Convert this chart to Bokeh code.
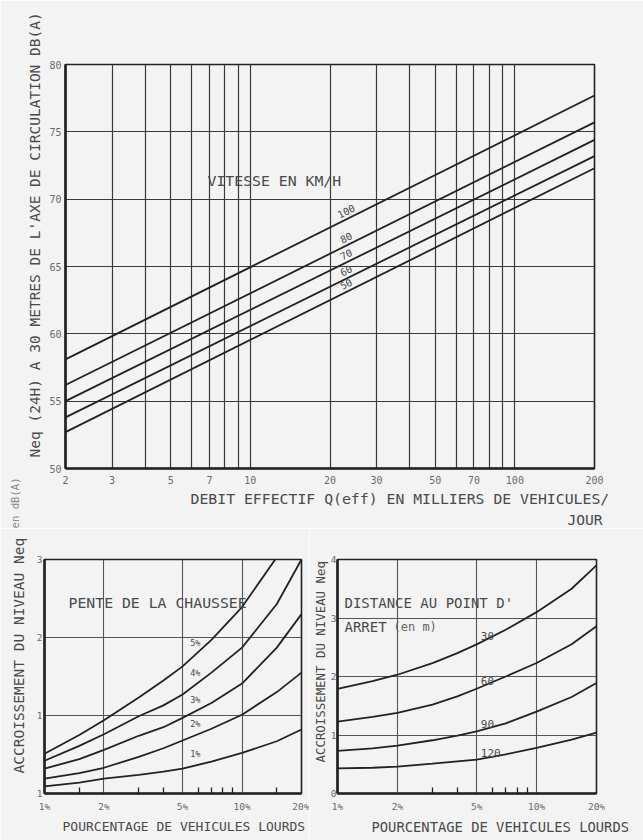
import numpy as np
from bokeh.plotting import figure
from bokeh.models import FixedTicker, Label, Range1d, ColumnDataSource, Title
from bokeh.layouts import column, row
from bokeh.embed import file_html
from bokeh.resources import INLINE
from bokeh.core.properties import value

# ---------------- data: top chart (straight lines on log x) ----------------
flow_ends = [2, 200]                 # thousands of vehicles / day
speed_names = ["100", "80", "70", "60", "50"]
leq_100 = [58.1, 77.7]
leq_80 = [56.2, 75.7]
leq_70 = [55.0, 74.4]
leq_60 = [53.8, 73.2]
leq_50 = [52.7, 72.3]
top_x_ticks = [2, 3, 5, 7, 10, 20, 30, 50, 70, 100, 200]
top_x_grid = [3, 4, 5, 6, 7, 8, 9, 10, 20, 30, 40, 50, 60, 70, 80, 90, 100]
top_y_ticks = [50, 55, 60, 65, 70, 75, 80]
top_y_grid = [55, 60, 65, 70, 75]

# ---------------- data: bottom panels ----------------
hv_pct = [1, 1.5, 2, 3, 4, 5, 7, 10, 15, 20]   # % heavy vehicles
slope_names = ["5%", "4%", "3%", "2%", "1%"]
slope_5 = [0.51, 0.75, 0.94, 1.23, 1.45, 1.63, 1.97, 2.39, 3.03, 3.55]
slope_4 = [0.42, 0.61, 0.76, 0.99, 1.13, 1.27, 1.55, 1.87, 2.43, 3.0]
slope_3 = [0.32, 0.44, 0.56, 0.74, 0.85, 0.97, 1.16, 1.41, 1.87, 2.3]
slope_2 = [0.19, 0.26, 0.33, 0.47, 0.58, 0.68, 0.83, 1.01, 1.3, 1.55]
slope_1 = [0.09, 0.14, 0.19, 0.24, 0.28, 0.32, 0.41, 0.52, 0.67, 0.82]

dist_names = ["30", "60", "90", "120"]
dist_30 = [1.79, 1.92, 2.03, 2.23, 2.40, 2.55, 2.80, 3.10, 3.50, 3.90]
dist_60 = [1.23, 1.31, 1.38, 1.52, 1.66, 1.79, 2.00, 2.23, 2.55, 2.86]
dist_90 = [0.73, 0.77, 0.82, 0.91, 0.99, 1.06, 1.20, 1.40, 1.65, 1.89]
dist_120 = [0.43, 0.44, 0.46, 0.51, 0.55, 0.58, 0.67, 0.78, 0.92, 1.04]

pct_ticks = [1, 2, 5, 10, 20]
pct_labels = ["1%", "2%", "5%", "10%", "20%"]
left_minor = [1.5, 3, 4, 6, 7, 8, 9, 15]
right_minor = [3, 4, 6, 7, 8, 9]
left_y_ticks = [0, 1, 2, 3]
left_y_labels = ["1", "1", "2", "3"]
right_y_ticks = [0, 1, 2, 3, 4]

# ---------------- style ----------------
FONT = "DejaVu Sans Mono"
BG = "#f3f3f3"
INK = "#222222"
TXT = "#4a4a4a"
TICKTXT = "#6a6a6a"


def at(xs, ys, x):
    return float(np.interp(np.log10(x), np.log10(xs), ys))


def style(p, grid_color="#3a3a3a", grid_w=1.2):
    p.background_fill_color = BG
    p.border_fill_color = BG
    p.outline_line_color = INK
    p.outline_line_width = 1.6
    for ax in (p.xaxis[0], p.yaxis[0]):
        ax.axis_line_color = INK
        ax.axis_line_width = 2.6
        ax.major_tick_line_color = None
        ax.major_tick_in = 0
        ax.major_tick_out = 0
        ax.minor_tick_line_color = None
        ax.minor_tick_out = 0
        ax.major_label_text_font = FONT
        ax.major_label_text_color = TICKTXT
    p.xgrid.grid_line_color = grid_color
    p.ygrid.grid_line_color = grid_color
    p.xgrid.grid_line_width = grid_w
    p.ygrid.grid_line_width = grid_w


def lab(p, x, y, text, size, align="left", angle=0, color=TXT, baseline="middle"):
    p.add_layout(Label(x=x, y=y, x_units="screen", y_units="screen", text=text,
                       text_font=FONT, text_font_size=size, text_color=color,
                       text_align=align, text_baseline=baseline,
                       angle=angle, angle_units="deg"))


def ttl(p, side, text, size, offset, standoff=2, color=TXT):
    p.add_layout(Title(text=text, align="left", offset=offset, standoff=standoff,
                       text_font=FONT, text_font_size=size, text_font_style="normal",
                       text_color=color), side)


# ================= TOP CHART =================
pt = figure(width=643, height=528, x_axis_type="log",
            x_range=Range1d(2, 200), y_range=Range1d(50, 80),
            output_backend="svg", toolbar_location=None,
            min_border_left=65, min_border_right=49,
            min_border_top=64, min_border_bottom=60)
style(pt)
pt.xaxis.ticker = FixedTicker(ticks=top_x_ticks)
pt.xaxis.major_label_overrides = {t: str(t) for t in top_x_ticks}
pt.xaxis.major_label_text_font_size = "10px"
pt.xaxis.major_label_standoff = 7
pt.yaxis.ticker = FixedTicker(ticks=top_y_ticks)
pt.yaxis.major_label_text_font_size = "10px"
pt.yaxis.major_label_standoff = 4
pt.xgrid.ticker = FixedTicker(ticks=top_x_grid)
pt.ygrid.ticker = FixedTicker(ticks=top_y_grid)

top_series = [leq_100, leq_80, leq_70, leq_60, leq_50]
for ys in top_series:
    pt.line(flow_ends, ys, line_color=INK, line_width=1.8)

lab_x = 23
src_top = ColumnDataSource(dict(
    x=[lab_x] * len(top_series),
    y=[at(flow_ends, ys, lab_x) + 0.62 for ys in top_series],
    t=speed_names))
pt.text(x="x", y="y", text="t", source=src_top, angle=26.5, angle_units="deg",
        text_font=value(FONT), text_font_size="10px", text_color=TXT,
        text_align="center", text_baseline="middle")

lab(pt, 142, 288, "VITESSE EN KM/H", "14.8px")
ttl(pt, "below", "DEBIT EFFECTIF Q(eff) EN MILLIERS DE VEHICULES/", "14.8px", 125)
ttl(pt, "below", "JOUR", "14.6px", 502)
ttl(pt, "left", "Neq (24H) A 30 METRES DE L'AXE DE CIRCULATION DB(A)", "14.5px", 11,
    standoff=8)
# tail of the lower-left panel's axis title (extends above that panel)
ttl(pt, "left", "en dB(A)", "10.6px", -60, standoff=0, color="#8a8a8a")

# ================= BOTTOM LEFT =================
pl = figure(width=309, height=312, x_axis_type="log",
            x_range=Range1d(1, 20), y_range=Range1d(0, 3),
            output_backend="svg", toolbar_location=None,
            min_border_left=44, min_border_right=8,
            min_border_top=31, min_border_bottom=47)
style(pl, grid_color="#555555", grid_w=1.1)
pl.xaxis.ticker = FixedTicker(ticks=pct_ticks, minor_ticks=left_minor)
pl.xaxis.major_label_overrides = dict(zip(pct_ticks, pct_labels))
pl.xaxis.major_label_text_font_size = "9.5px"
pl.xaxis.major_label_standoff = 7
pl.xaxis.minor_tick_line_color = INK
pl.xaxis.minor_tick_in = 6
pl.xaxis.minor_tick_line_width = 1.3
pl.yaxis.ticker = FixedTicker(ticks=left_y_ticks)
pl.yaxis.major_label_overrides = dict(zip(left_y_ticks, left_y_labels))
pl.yaxis.major_label_text_font_size = "9.5px"
pl.yaxis.major_label_standoff = 2
pl.xgrid.ticker = FixedTicker(ticks=[2, 5, 10])
pl.ygrid.ticker = FixedTicker(ticks=[1, 2])

left_series = [slope_5, slope_4, slope_3, slope_2, slope_1]
for ys in left_series:
    pl.line(hv_pct, ys, line_color=INK, line_width=1.8)
lx = 5.8
src_l = ColumnDataSource(dict(x=[lx] * 5, y=[at(hv_pct, ys, lx) + 0.06 for ys in left_series],
                              t=slope_names))
pl.text(x="x", y="y", text="t", source=src_l, text_font=value(FONT),
        text_font_size="8.5px", text_color=TXT, text_align="center",
        text_baseline="bottom", y_offset=-2)

lab(pl, 24, 191, "PENTE DE LA CHAUSSEE", "14.8px")
ttl(pl, "below", "POURCENTAGE DE VEHICULES LOURDS", "13px", 18, standoff=4)
ttl(pl, "left", "ACCROISSEMENT DU NIVEAU Neq", "14.5px", 20, standoff=14)

# ================= BOTTOM RIGHT =================
pr = figure(width=334, height=312, x_axis_type="log",
            x_range=Range1d(1, 20), y_range=Range1d(0, 4),
            output_backend="svg", toolbar_location=None,
            min_border_left=28, min_border_right=47,
            min_border_top=31, min_border_bottom=46)
style(pr, grid_color="#555555", grid_w=1.1)
pr.xaxis.ticker = FixedTicker(ticks=pct_ticks, minor_ticks=right_minor)
pr.xaxis.major_label_overrides = dict(zip(pct_ticks, pct_labels))
pr.xaxis.major_label_text_font_size = "9.5px"
pr.xaxis.major_label_standoff = 7
pr.xaxis.minor_tick_line_color = INK
pr.xaxis.minor_tick_in = 6
pr.xaxis.minor_tick_line_width = 1.3
pr.yaxis.ticker = FixedTicker(ticks=right_y_ticks)
pr.yaxis.major_label_text_font_size = "9.5px"
pr.yaxis.major_label_standoff = 1
pr.xgrid.ticker = FixedTicker(ticks=[2, 5, 10])
pr.ygrid.ticker = FixedTicker(ticks=[1, 2, 3])

right_series = [dist_30, dist_60, dist_90, dist_120]
for ys in right_series:
    pr.line(hv_pct, ys, line_color=INK, line_width=1.8)
rx = 5.25
src_r = ColumnDataSource(dict(x=[rx] * 4, y=[at(hv_pct, ys, rx) for ys in right_series],
                              t=dist_names))
pr.text(x="x", y="y", text="t", source=src_r, text_font=value(FONT),
        text_font_size="11px", text_color=TXT, text_align="left",
        text_baseline="bottom", y_offset=-2)

lab(pr, 7, 191, "DISTANCE AU POINT D'", "14px")
lab(pr, 7, 167, "ARRET", "14px")
lab(pr, 56, 167, "(en m)", "12px", color="#666666")
ttl(pr, "below", "POURCENTAGE DE VEHICULES LOURDS", "13.8px", 34, standoff=4)
ttl(pr, "left", "ACCROISSEMENT DU NIVEAU Neq", "12.4px", 31, standoff=0)

layout = column(pt, row(pl, pr, spacing=0), spacing=0)
open("out.html", "w").write(file_html(layout, INLINE))
